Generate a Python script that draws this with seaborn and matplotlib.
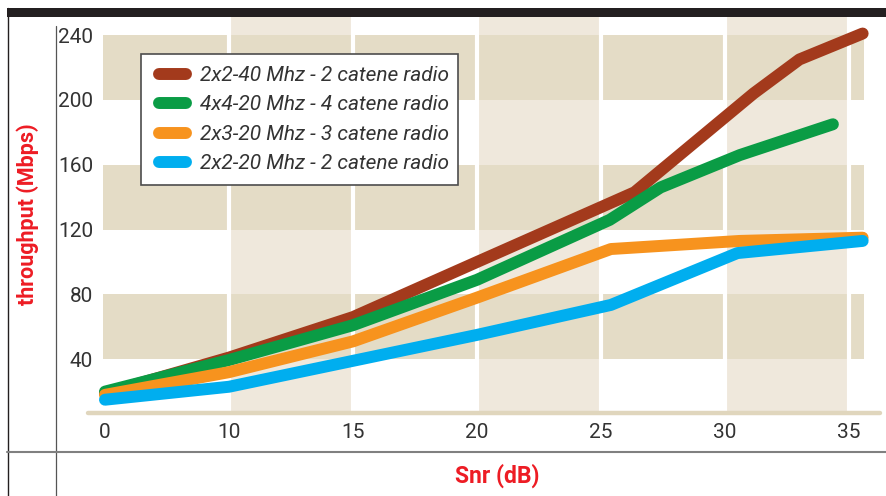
import matplotlib
matplotlib.use("Agg")
import matplotlib.pyplot as plt
import numpy as np
import pandas as pd
import seaborn as sns
from matplotlib import font_manager
from matplotlib.lines import Line2D
from matplotlib.patches import Rectangle

# ---- data ----
series_labels = [
    "2x2-40 Mhz - 2 catene radio",
    "4x4-20 Mhz - 4 catene radio",
    "2x3-20 Mhz - 3 catene radio",
    "2x2-20 Mhz - 2 catene radio",
]
series_colors = ["#a33a1c", "#0a9c45", "#f7931e", "#00aeef"]

snr_2x2_40 = [0, 10, 15, 20, 26.35, 31.15, 33.0, 35.55]
mbps_2x2_40 = [19, 41, 66, 100, 143, 204, 225, 241]

snr_4x4_20 = [0, 10, 15, 20, 25.35, 27.4, 30.6, 34.35]
mbps_4x4_20 = [20, 39.5, 61, 89, 126, 146, 166, 185]

snr_2x3_20 = [0, 10, 15, 20, 25.4, 30.6, 35.55]
mbps_2x3_20 = [18, 32, 51, 78, 108, 113, 115]

snr_2x2_20 = [0, 10, 15, 20, 25.4, 30.5, 35.55]
mbps_2x2_20 = [15, 23, 39, 55, 73.5, 105.5, 113]

x_ticks = [0, 10, 15, 20, 25, 30, 35]
y_ticks = [40, 80, 120, 160, 200, 240]
light_cols = [(10, 15), (20, 25), (30, 35)]
tan_rows = [(40, 80), (120, 160), (200, 240)]

names = {f.name for f in font_manager.fontManager.ttflist}
NARROW = "Liberation Sans Narrow" if "Liberation Sans Narrow" in names else "Roboto"
RED = "#ed1c24"
INK = "#333333"
W, H = 886, 496


# x axis is not linear: 0-10 takes the same room as each 5 dB step after it
def fwd(x):
    x = np.asarray(x, dtype=float)
    return np.where(x <= 10, x / 10.0, 1 + (x - 10) / 5.0)


def inv(p):
    p = np.asarray(p, dtype=float)
    return np.where(p <= 1, p * 10.0, 10 + 5 * (p - 1))


sns.set_style("white")
fig = plt.figure(figsize=(W / 100, H / 100), dpi=100)
ax = fig.add_axes([88 / W, 83 / H, 792 / W, 396 / H])
ax.set_xscale("function", functions=(fwd, inv))
ax.set_xlim(-1.37, 36.25)
ax.set_ylim(6.8, 251.2)

for a, b in light_cols:
    ax.axvspan(a, b, color="#efe8dc", lw=0, zorder=0)
for a, b in tan_rows:
    ax.axhspan(a, b, xmin=15 / 792, xmax=776 / 792, color="#e4dcc6", lw=0, zorder=1)
for t in x_ticks[1:]:
    ax.axvline(t, color="white", lw=3, zorder=2)
ax.axhline(6.8, color="#e0d6bd", lw=3.2, zorder=3, clip_on=False)

for xs, ys, lab, col in zip(
    [snr_2x2_40, snr_4x4_20, snr_2x3_20, snr_2x2_20],
    [mbps_2x2_40, mbps_4x4_20, mbps_2x3_20, mbps_2x2_20],
    series_labels,
    series_colors,
):
    df = pd.DataFrame({"snr": xs, "mbps": ys})
    sns.lineplot(
        data=df, x="snr", y="mbps", color=col, label=lab, ax=ax,
        linewidth=8.6, solid_capstyle="round", solid_joinstyle="round",
        estimator=None, sort=False, zorder=5,
    )

ax.set_xticks(x_ticks)
ax.set_xticklabels([str(t) for t in x_ticks])
ax.set_yticks(y_ticks)
ax.set_yticklabels([str(t) for t in y_ticks])
ax.tick_params(axis="y", length=0, pad=-3.6, labelsize=15, labelcolor=INK)
ax.tick_params(axis="x", length=0, pad=7, labelsize=15, labelcolor=INK)
for lbl in ax.get_xticklabels() + ax.get_yticklabels():
    lbl.set_family(NARROW)
ax.minorticks_off()
ax.set_xlabel("")
ax.set_ylabel("")
for s in ax.spines.values():
    s.set_visible(False)

# legend box drawn separately so the padding can match the print layout
box = Rectangle((141 / W, 1 - 185 / H), 317 / W, 131 / H, transform=fig.transFigure,
                facecolor="white", edgecolor="#4d4d4d", lw=1.2, zorder=9, clip_on=False)
ax.add_patch(box)
leg = ax.legend(
    loc="upper left", bbox_to_anchor=(159 / W, 1 - 66 / H),
    bbox_transform=fig.transFigure, borderaxespad=0, borderpad=0,
    prop={"family": NARROW, "style": "italic", "size": 15},
    frameon=False, handlelength=1.3, handletextpad=0.65, labelspacing=0.5,
)
for t in leg.get_texts():
    t.set_color(INK)
leg.set_zorder(10)

# page furniture around the chart
fig.add_artist(Rectangle((7 / W, 1 - 17 / H), 879 / W, 9 / H,
                         transform=fig.transFigure, color="#231f20", lw=0))
fig.add_artist(Line2D([7.5 / W, 7.5 / W], [0, 1 - 8 / H],
                      transform=fig.transFigure, color="#231f20", lw=1.0))
fig.add_artist(Line2D([55.5 / W, 55.5 / W], [0, 1 - 26 / H],
                      transform=fig.transFigure, color="#555555", lw=0.9))
fig.add_artist(Line2D([7 / W, 1], [1 - 452 / H, 1 - 452 / H],
                      transform=fig.transFigure, color="#808080", lw=1.5))

fig.text(28 / W, 1 - 214 / H, "throughput (Mbps)", rotation=90,
         ha="center", va="center", color=RED, fontsize=15.5,
         fontweight="bold", family=NARROW)
fig.text(497 / W, 1 - 476 / H, "Snr (dB)", ha="center", va="center",
         color=RED, fontsize=16.5, fontweight="bold", family=NARROW)

fig.savefig("out.png", dpi=100)
